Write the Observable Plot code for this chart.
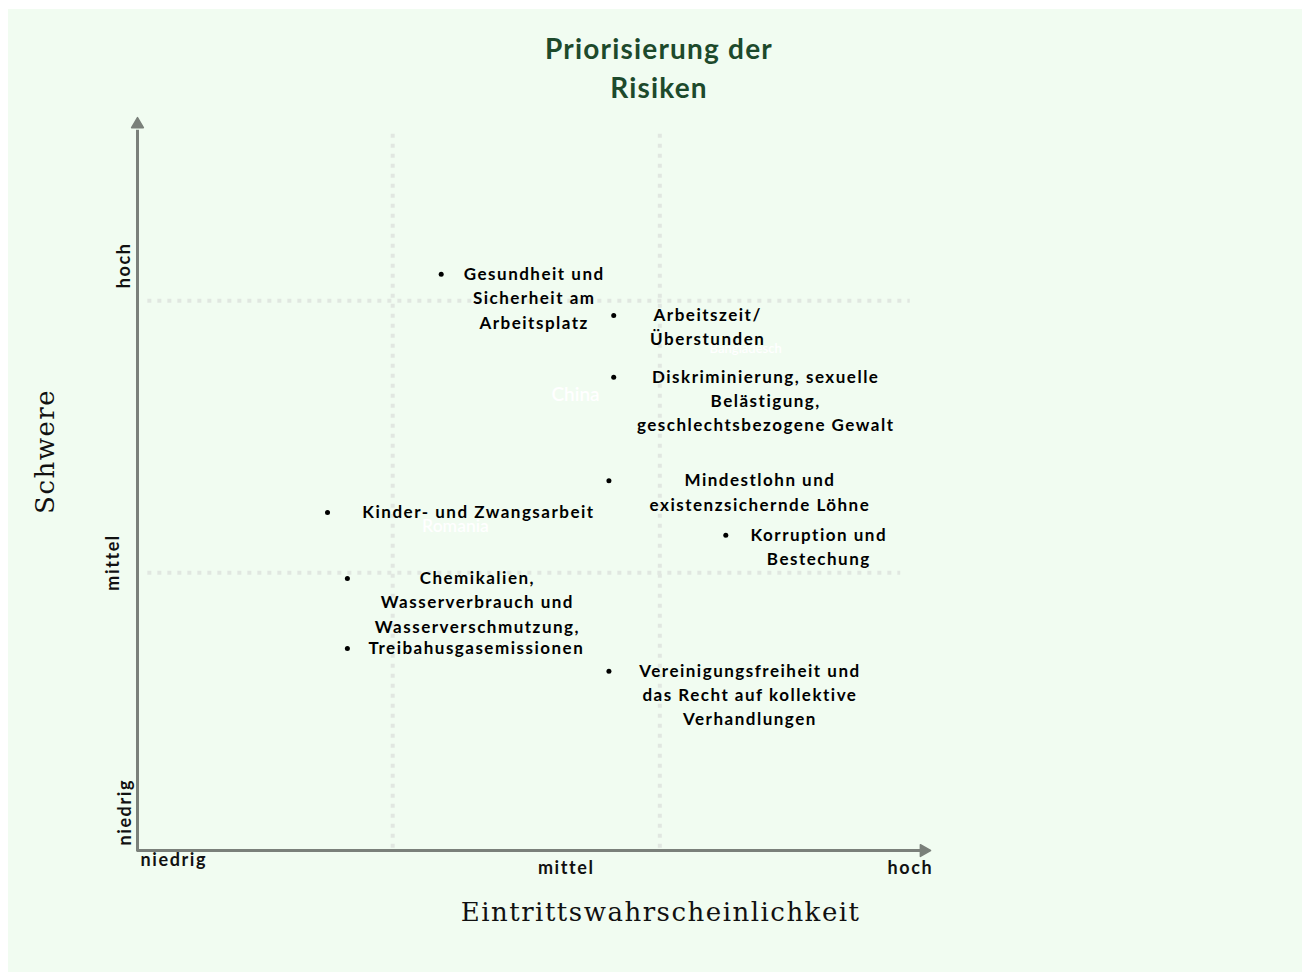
<!DOCTYPE html>
<html>
<head>
<meta charset="utf-8">
<script src="https://cdn.jsdelivr.net/npm/d3@7"></script>
<script src="https://cdn.jsdelivr.net/npm/@observablehq/plot@0.6"></script>
<style>
  html, body { margin: 0; padding: 0; background: #ffffff; }
  #wrap { position: relative; width: 1308px; height: 974px; overflow: hidden; }
  #panel { position: absolute; left: 8px; top: 9px; width: 1294px; height: 963px; background: #f1fcf1; }
  #title { position: absolute; left: 0; top: 29px; width: 1318px; margin: 0; text-align: center;
           font: 700 28px Lato, sans-serif; line-height: 39px; color: #1d4a2c; letter-spacing: 1.2px; }
  #chart { position: absolute; left: 0; top: 0; }
  #chart g[font-size="17"] text { letter-spacing: 1.5px; }
  #chart g[font-size="18"] text { letter-spacing: 1.6px; }
  #chart g[font-size="26"] text { letter-spacing: 1.5px; }
</style>
</head>
<body>
<div id="wrap">
  <div id="panel"></div>
  <h1 id="title">Priorisierung der<br>Risiken</h1>
  <div id="chart"></div>
</div>
<script>
// ---- data ----
const risks = [
  "Gesundheit und\nSicherheit am\nArbeitsplatz",
  "Arbeitszeit/\nÜberstunden",
  "Diskriminierung, sexuelle\nBelästigung,\ngeschlechtsbezogene Gewalt",
  "Mindestlohn und\nexistenzsichernde Löhne",
  "Korruption und\nBestechung",
  "Kinder- und Zwangsarbeit",
  "Chemikalien,\nWasserverbrauch und\nWasserverschmutzung,",
  "Treibahusgasemissionen",
  "Vereinigungsfreiheit und\ndas Recht auf kollektive\nVerhandlungen"
];
const likelihood = [38.2, 59.9, 59.9, 59.3, 74.0, 23.9, 26.4, 26.4, 59.3];
const severity   = [78.4, 72.8, 64.4, 50.3, 42.9, 46.0, 37.0, 27.5, 24.4];

const countries = ["Bangladesch", "China", "Romania"];
const countryLikelihood = [76.5, 55.1, 40.0];
const countrySeverity = [68.3, 62.0, 44.1];

const levelLabels = ["niedrig", "mittel", "hoch"];
const xLevelValues = [0, 53.8, 97.1];
const yLevelValues = [5.2, 39.2, 79.6];

const gridX = [32.1, 65.7];
const gridY = [74.8, 37.8];

const xTitle = "Eintrittswahrscheinlichkeit";
const yTitle = "Schwere";

// ---- layout / style ----
const labelDx = [93, 94, 152, 151, 93, 151, 130, 129, 141];
const xTickDx = [3, 1, 1];
const xTickDy = [15, 23, 23];
const xTickAnchor = ["start", "middle", "middle"];
const yTickDx = [-7, -19, -8];
const countrySize = [13, 19, 17.5];
const axisColor = "#7a807a";
const gridColor = "#e1e7e1";
const labelFont = "Lato, sans-serif";

const risksData = risks.map((r, i) => ({name: r, x: likelihood[i], y: severity[i]}));

const marks = [];
// grid
marks.push(Plot.ruleX(gridX, {y1: 0.3, y2: 98.2, stroke: gridColor, strokeWidth: 4, strokeDasharray: "4 6"}));
marks.push(Plot.ruleY([gridY[0]], {x1: 1.3, x2: 97.2, stroke: gridColor, strokeWidth: 4, strokeDasharray: "4 6"}));
marks.push(Plot.ruleY([gridY[1]], {x1: 1.3, x2: 96.0, stroke: gridColor, strokeWidth: 4, strokeDasharray: "4 6"}));
// hidden white country labels
countries.forEach((c, i) => {
  marks.push(Plot.text([c], {x: () => countryLikelihood[i], y: () => countrySeverity[i], text: d => d,
    fill: "#ffffff", fontSize: countrySize[i], fontFamily: labelFont, fontWeight: 600}));
});
// axes
marks.push(Plot.ruleX([0], {y1: -0.2, y2: 98, stroke: axisColor, strokeWidth: 3}));
marks.push(Plot.ruleY([0], {x1: 0, x2: 98.5, stroke: axisColor, strokeWidth: 3}));
marks.push(Plot.dot([0], {x: 0, y: 98.8, symbol: "triangle2", r: 5.6, fill: axisColor, stroke: axisColor, strokeWidth: 1.5, strokeLinejoin: "round"}));
marks.push(Plot.dot([0], {x: 98.9, y: 0, symbol: "triangle2", r: 5.6, rotate: 90, fill: axisColor, stroke: axisColor, strokeWidth: 1.5, strokeLinejoin: "round"}));
// tick labels
levelLabels.forEach((l, i) => {
  marks.push(Plot.text([l], {x: xLevelValues[i], y: 0, text: d => d, dx: xTickDx[i], dy: xTickDy[i],
    textAnchor: xTickAnchor[i], lineAnchor: "bottom", fontSize: 18, fontWeight: 700, fontFamily: labelFont, fill: "#111"}));
  marks.push(Plot.text([l], {x: 0, y: yLevelValues[i], text: d => d, dx: yTickDx[i], rotate: -90,
    textAnchor: "middle", lineAnchor: "bottom", fontSize: 18, fontWeight: 700, fontFamily: labelFont, fill: "#111"}));
});
// axis titles
marks.push(Plot.text([xTitle], {x: 65.8, y: 0, text: d => d, dy: 70, lineAnchor: "bottom", textAnchor: "middle",
  fontSize: 26, fontFamily: "DejaVu Serif, serif", fill: "#111"}));
marks.push(Plot.text([yTitle], {x: 0, y: 54.3, text: d => d, dx: -84, rotate: -90, lineAnchor: "bottom", textAnchor: "middle",
  fontSize: 26, fontFamily: "DejaVu Serif, serif", fill: "#111"}));
// points
marks.push(Plot.dot(risksData, {x: "x", y: "y", r: 2.5, fill: "#000"}));
// risk labels
risksData.forEach((d, i) => {
  marks.push(Plot.text([d], {x: "x", y: "y", text: "name", dx: labelDx[i], dy: -12, lineAnchor: "top",
    lineHeight: 1.44, textAnchor: "middle", fontSize: 17, fontWeight: 700, fontFamily: labelFont, fill: "#000"}));
});

const chart = Plot.plot({
  width: 1308, height: 974,
  marginLeft: 137, marginRight: 376, marginTop: 115, marginBottom: 124,
  x: {domain: [0, 100], axis: null},
  y: {domain: [0, 100], axis: null},
  style: {background: "transparent", overflow: "visible"},
  marks
});
document.getElementById("chart").appendChild(chart);
</script>
</body>
</html>
